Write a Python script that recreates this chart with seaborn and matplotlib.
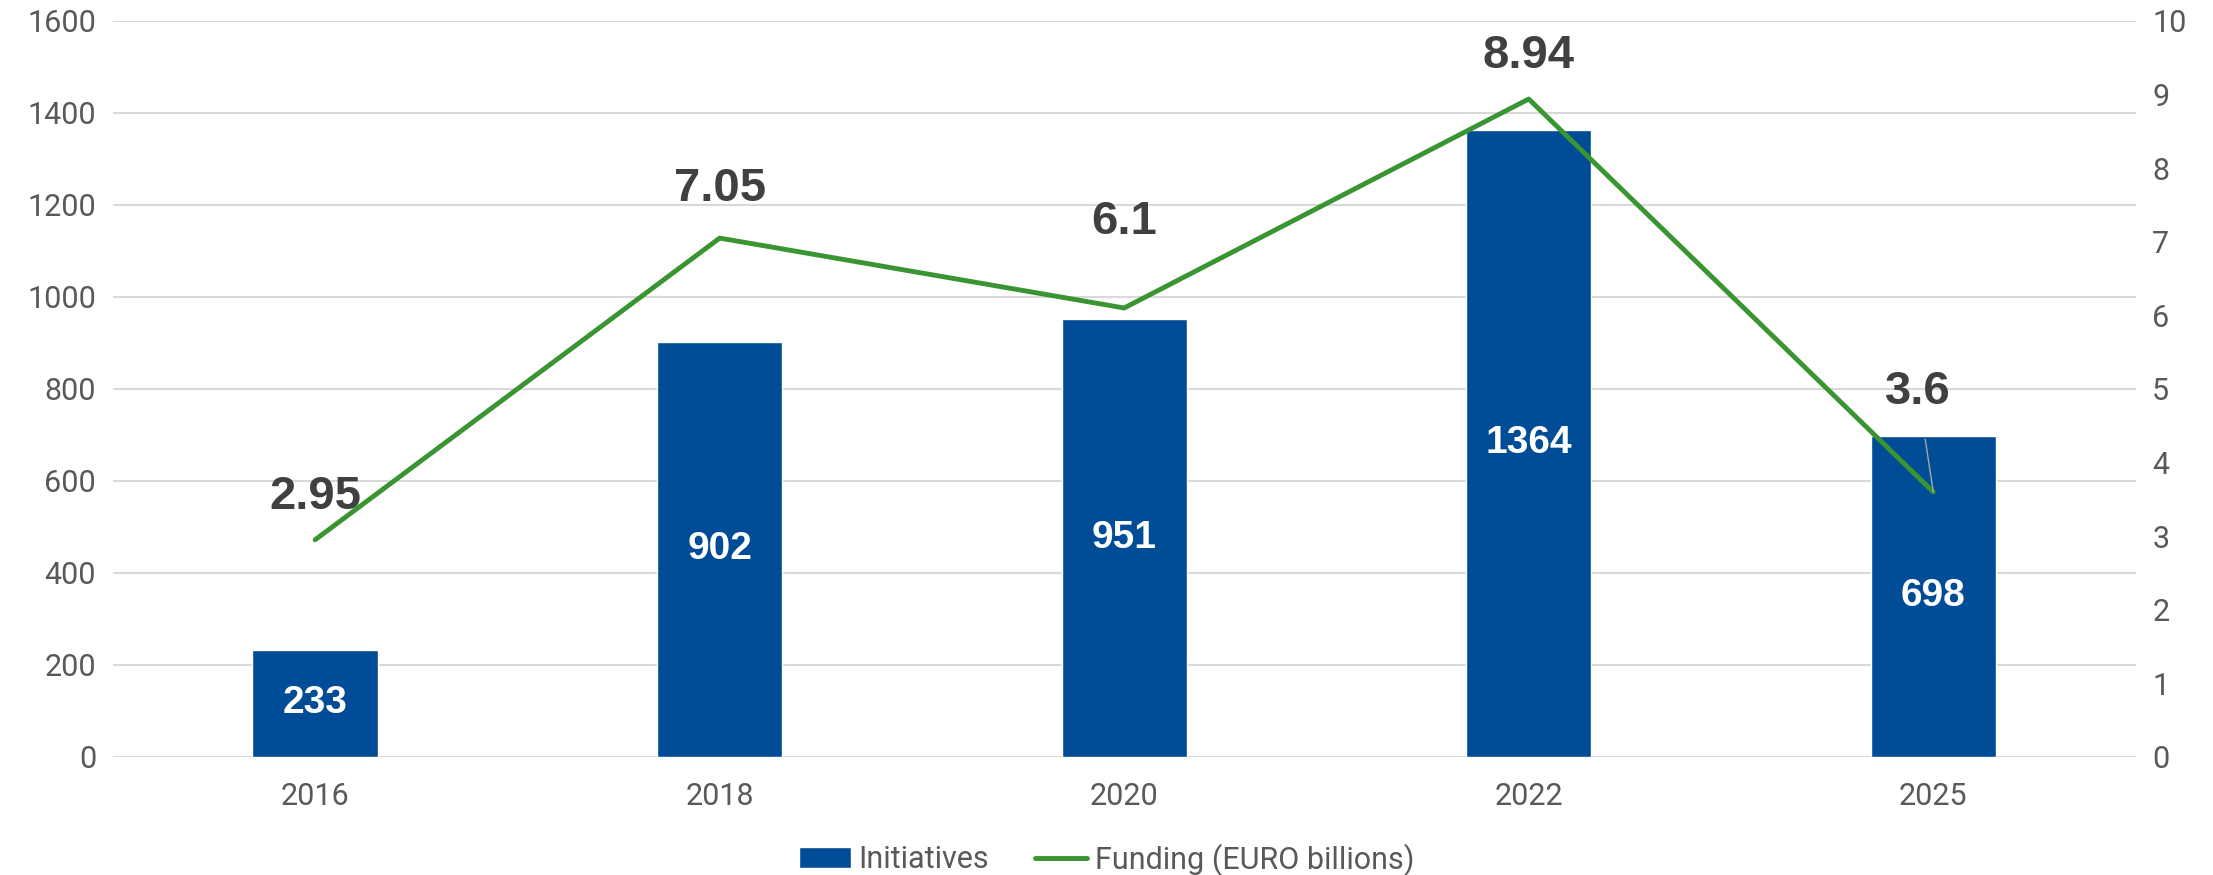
import numpy as np
import pandas as pd
import seaborn as sns
import matplotlib.pyplot as plt

years = ["2016", "2018", "2020", "2022", "2025"]
initiatives = [233, 902, 951, 1364, 698]
funding = [2.95, 7.05, 6.1, 8.94, 3.6]

bar_color = "#004C97"
line_color = "#3A9431"
text_gray = "#595959"

sns.set_theme(style="white")
plt.rcParams["font.family"] = ["Roboto", "DejaVu Sans"]
label_font = ["Liberation Sans", "DejaVu Sans"]

df = pd.DataFrame({"Year": years, "Initiatives": initiatives, "Funding": funding})

fig, ax = plt.subplots(figsize=(22.13, 8.75), dpi=100)
fig.subplots_adjust(left=0.051, right=0.965, top=0.976, bottom=0.135)

sns.barplot(data=df, x="Year", y="Initiatives", color=bar_color, width=0.31,
            saturation=1, ax=ax, zorder=2, label="Initiatives")
if ax.get_legend() is not None:
    ax.get_legend().remove()
ax.set_ylim(0, 1600)
ax.set_yticks(range(0, 1601, 200))
ax.set_xlim(-0.5, len(years) - 0.5)
ax.grid(axis="y", color="#D9D9D9", lw=1.5, zorder=0)
ax.set_axisbelow(True)
ax.set_xlabel("")
ax.set_ylabel("")
ax.tick_params(axis="y", length=0, labelsize=22, colors=text_gray, pad=12)
ax.tick_params(axis="x", length=0, labelsize=22, colors=text_gray, pad=18)
for s in ax.spines.values():
    s.set_visible(False)

# white value labels in the middle of the bars
for i, v in enumerate(initiatives):
    ax.text(i, v / 2, str(v), ha="center", va="center", color="white",
            fontsize=28, fontweight="bold", family=label_font)

ax2 = ax.twinx()
sns.lineplot(x=np.arange(len(years)), y=funding, color=line_color, lw=3.5,
             ax=ax2, label="Funding (EURO billions)", legend=False)
ax2.set_ylim(0, 10)
ax2.set_yticks(range(0, 11))
ax2.tick_params(axis="y", length=0, labelsize=22, colors=text_gray, pad=12)
for s in ax2.spines.values():
    s.set_visible(False)
ax2.set_ylabel("")

# funding labels above the points
offsets = [(0, 31), (0, 35), (0, 62), (0, 31), (-11, 72)]
for i, (v, off) in enumerate(zip(funding, offsets)):
    lab = f"{v:g}"
    kw = dict(ha="center", va="center", fontsize=34, fontweight="bold",
              color="#404040", family=label_font)
    if i == len(funding) - 1:
        ax2.annotate(lab, (i, v), xytext=off, textcoords="offset points",
                     arrowprops=dict(arrowstyle="-", color="#A6A6A6", lw=1,
                                     shrinkA=16, shrinkB=0), **kw)
    else:
        ax2.annotate(lab, (i, v), xytext=off, textcoords="offset points", **kw)

h1, l1 = ax.get_legend_handles_labels()
h2, l2 = ax2.get_legend_handles_labels()
leg = fig.legend(h1 + h2, l1 + l2, loc="center", ncol=2, frameon=False,
                 fontsize=22, bbox_to_anchor=(0.5, 0.018), handlelength=1.7,
                 columnspacing=1.5, handletextpad=0.25)
for t in leg.get_texts():
    t.set_color(text_gray)

fig.savefig("out.png", dpi=100)
